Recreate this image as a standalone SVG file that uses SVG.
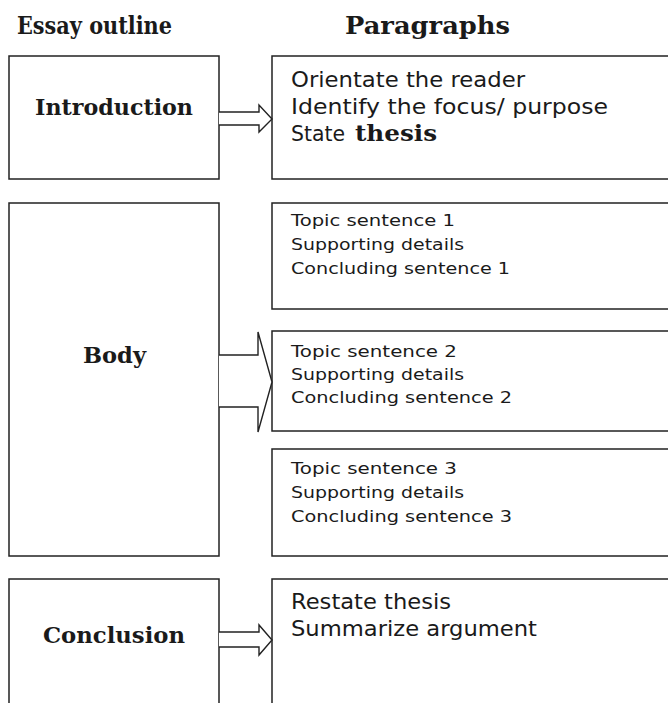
<svg xmlns="http://www.w3.org/2000/svg" width="668" height="703" viewBox="0 0 668 703">
<style>
.box{fill:#fff;stroke:#222;stroke-width:1.5}
.arr{fill:#fff;stroke:#222;stroke-width:1.4;stroke-linejoin:miter}
.h{font-family:"DejaVu Serif","Liberation Serif",serif;font-weight:bold;fill:#1a1a1a}
.t{font-family:"DejaVu Sans","Liberation Sans",sans-serif;fill:#1a1a1a}
.big{font-size:21px}
.sm{font-size:16.5px}
</style>
<rect width="668" height="703" fill="#fff"/>
<g id="titles">
<text class="h" x="17" y="34" font-size="25" textLength="155" lengthAdjust="spacingAndGlyphs">Essay outline</text>
<text class="h" x="345" y="34" font-size="25" textLength="165" lengthAdjust="spacingAndGlyphs">Paragraphs</text>
</g>
<g id="intro">
<rect class="box" x="9" y="56" width="210" height="123"/>
<text class="h" x="35" y="115" font-size="22.5" textLength="158" lengthAdjust="spacingAndGlyphs">Introduction</text>
</g>
<g id="body">
<rect class="box" x="9" y="203" width="210" height="353"/>
<text class="h" x="83" y="363" font-size="22.5" textLength="63" lengthAdjust="spacingAndGlyphs">Body</text>
</g>
<g id="conclusion">
<path class="box" d="M9,704 V579 H219 V704"/>
<text class="h" x="43" y="643" font-size="22.5" textLength="142" lengthAdjust="spacingAndGlyphs">Conclusion</text>
</g>
<g id="intro-para">
<rect class="box" x="272" y="56" width="400" height="123"/>
<text class="t big" x="291" y="87" textLength="234" lengthAdjust="spacingAndGlyphs">Orientate the reader</text>
<text class="t big" x="291" y="114" textLength="317" lengthAdjust="spacingAndGlyphs">Identify the focus/ purpose</text>
<text class="t big" x="291" y="141" textLength="54" lengthAdjust="spacingAndGlyphs">State</text>
<text class="h" x="355" y="141" font-size="22" textLength="82" lengthAdjust="spacingAndGlyphs">thesis</text>
</g>
<g id="topic1">
<rect class="box" x="272" y="203" width="400" height="106"/>
<text class="t sm" x="291" y="226" textLength="164" lengthAdjust="spacingAndGlyphs">Topic sentence 1</text>
<text class="t sm" x="291" y="250" textLength="173" lengthAdjust="spacingAndGlyphs">Supporting details</text>
<text class="t sm" x="291" y="274" textLength="219" lengthAdjust="spacingAndGlyphs">Concluding sentence 1</text>
</g>
<g id="topic2">
<rect class="box" x="272" y="331" width="400" height="100"/>
<text class="t sm" x="291" y="357" textLength="166" lengthAdjust="spacingAndGlyphs">Topic sentence 2</text>
<text class="t sm" x="291" y="380" textLength="173" lengthAdjust="spacingAndGlyphs">Supporting details</text>
<text class="t sm" x="291" y="403" textLength="221" lengthAdjust="spacingAndGlyphs">Concluding sentence 2</text>
</g>
<g id="topic3">
<rect class="box" x="272" y="449" width="400" height="107"/>
<text class="t sm" x="291" y="474" textLength="166" lengthAdjust="spacingAndGlyphs">Topic sentence 3</text>
<text class="t sm" x="291" y="498" textLength="173" lengthAdjust="spacingAndGlyphs">Supporting details</text>
<text class="t sm" x="291" y="522" textLength="221" lengthAdjust="spacingAndGlyphs">Concluding sentence 3</text>
</g>
<g id="concl-para">
<path class="box" d="M272,704 V579 H672"/>
<text class="t big" x="291" y="609" textLength="160" lengthAdjust="spacingAndGlyphs">Restate thesis</text>
<text class="t big" x="291" y="636" textLength="246" lengthAdjust="spacingAndGlyphs">Summarize argument</text>
</g>
<g id="connectors">
<path class="arr" d="M219,112 H259 V105 L272,119 L259,132 V125 H219"/>
<path class="arr" d="M219,355 H258 V332 L272,382 L258,432 V407 H219"/>
<path class="arr" d="M219,632 H259 V625 L272,640 L259,655 V647 H219"/>
</g>
</svg>
